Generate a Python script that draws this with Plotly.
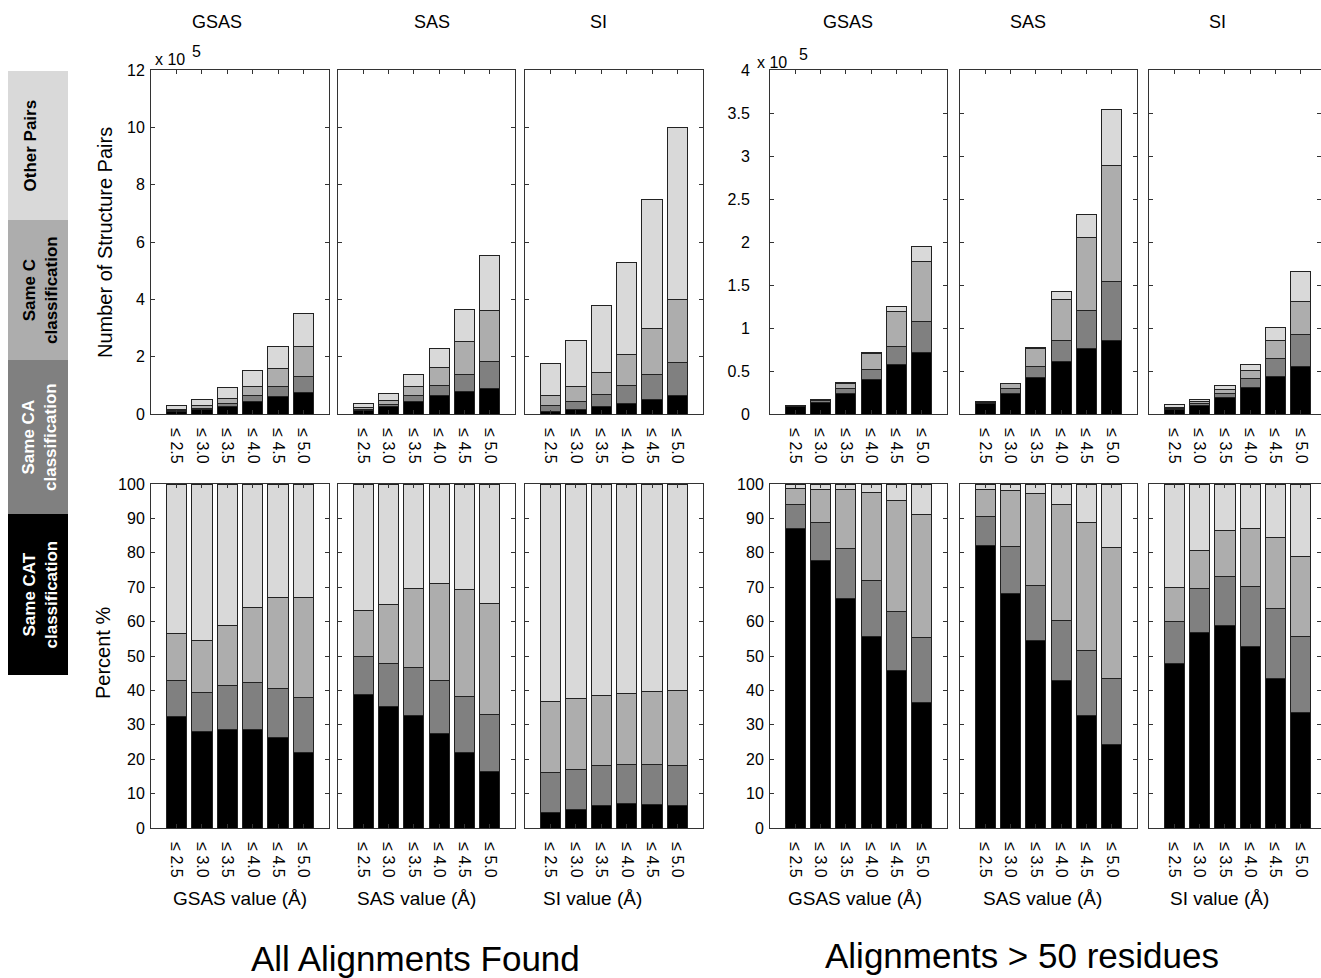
import plotly.graph_objects as go

# ---------------- data ----------------
categories = ["≤ 2.5", "≤ 3.0", "≤ 3.5", "≤ 4.0", "≤ 4.5", "≤ 5.0"]
series_names = ["Same CAT classification", "Same CA classification",
                "Same C classification", "Other Pairs"]
series_colors = ["#000000", "#808080", "#adadad", "#d9d9d9"]

# Number of structure pairs (x 10^5) - All alignments found
all_gsas_cat = [0.093, 0.146, 0.26, 0.434, 0.62, 0.764]
all_gsas_ca = [0.031, 0.059, 0.115, 0.204, 0.34, 0.555]
all_gsas_c = [0.039, 0.079, 0.16, 0.329, 0.63, 1.02]
all_gsas_other = [0.127, 0.237, 0.375, 0.544, 0.78, 1.15]

all_sas_cat = [0.136, 0.254, 0.449, 0.635, 0.795, 0.907]
all_sas_ca = [0.038, 0.091, 0.189, 0.354, 0.595, 0.918]
all_sas_c = [0.047, 0.124, 0.315, 0.644, 1.125, 1.78]
all_sas_other = [0.129, 0.251, 0.417, 0.667, 1.114, 1.925]

all_si_cat = [0.079, 0.141, 0.25, 0.376, 0.509, 0.64]
all_si_ca = [0.203, 0.297, 0.436, 0.604, 0.875, 1.17]
all_si_c = [0.364, 0.525, 0.773, 1.097, 1.586, 2.18]
all_si_other = [1.104, 1.597, 2.33, 3.22, 4.51, 6.01]

# Number of structure pairs (x 10^5) - Alignments > 50 residues
long_gsas_cat = [0.084, 0.135, 0.242, 0.399, 0.570, 0.714]
long_gsas_ca = [0.007, 0.019, 0.054, 0.117, 0.215, 0.365]
long_gsas_c = [0.004, 0.017, 0.062, 0.183, 0.402, 0.698]
long_gsas_other = [0.001, 0.003, 0.006, 0.018, 0.061, 0.174]

long_sas_cat = [0.124, 0.243, 0.425, 0.609, 0.761, 0.858]
long_sas_ca = [0.0125, 0.049, 0.124, 0.247, 0.438, 0.681]
long_sas_c = [0.012, 0.059, 0.209, 0.479, 0.858, 1.351]
long_sas_other = [0.0024, 0.006, 0.021, 0.087, 0.262, 0.656]

long_si_cat = [0.050, 0.099, 0.193, 0.306, 0.436, 0.556]
long_si_ca = [0.0127, 0.022, 0.047, 0.102, 0.205, 0.364]
long_si_c = [0.0106, 0.019, 0.045, 0.099, 0.208, 0.387]
long_si_other = [0.0315, 0.034, 0.044, 0.074, 0.156, 0.348]

# Percent % - All alignments found
pct_all_gsas_cat = [32.3, 28.0, 28.7, 28.7, 26.2, 21.9]
pct_all_gsas_ca = [10.7, 11.4, 12.6, 13.5, 14.3, 15.9]
pct_all_gsas_c = [13.4, 15.1, 17.6, 21.8, 26.6, 29.3]
pct_all_gsas_other = [43.6, 45.5, 41.1, 36.0, 32.9, 32.9]

pct_all_sas_cat = [38.9, 35.3, 32.8, 27.6, 21.9, 16.4]
pct_all_sas_ca = [10.9, 12.6, 13.8, 15.4, 16.4, 16.6]
pct_all_sas_c = [13.4, 17.2, 23.0, 28.0, 31.0, 32.2]
pct_all_sas_other = [36.8, 34.9, 30.4, 29.0, 30.7, 34.8]

pct_all_si_cat = [4.5, 5.5, 6.6, 7.1, 6.8, 6.4]
pct_all_si_ca = [11.6, 11.6, 11.5, 11.4, 11.7, 11.7]
pct_all_si_c = [20.8, 20.5, 20.4, 20.7, 21.2, 21.8]
pct_all_si_other = [63.1, 62.4, 61.5, 60.8, 60.3, 60.1]

# Percent % - Alignments > 50 residues
pct_long_gsas_cat = [87.0, 77.7, 66.6, 55.7, 45.7, 36.6]
pct_long_gsas_ca = [7.1, 11.2, 14.7, 16.3, 17.2, 18.7]
pct_long_gsas_c = [4.5, 9.5, 17.0, 25.5, 32.2, 35.8]
pct_long_gsas_other = [1.4, 1.6, 1.7, 2.5, 4.9, 8.9]

pct_long_sas_cat = [82.2, 68.1, 54.6, 42.8, 32.8, 24.2]
pct_long_sas_ca = [8.3, 13.6, 15.9, 17.4, 18.9, 19.2]
pct_long_sas_c = [7.9, 16.5, 26.8, 33.7, 37.0, 38.1]
pct_long_sas_other = [1.6, 1.8, 2.7, 6.1, 11.3, 18.5]

pct_long_si_cat = [47.8, 56.8, 58.8, 52.7, 43.4, 33.6]
pct_long_si_ca = [12.1, 12.8, 14.2, 17.5, 20.4, 22.0]
pct_long_si_c = [10.1, 11.1, 13.6, 17.0, 20.7, 23.4]
pct_long_si_other = [30.0, 19.3, 13.4, 12.8, 15.5, 21.0]

count_ticks_all = [0, 2, 4, 6, 8, 10, 12]
count_ticks_long = [0, 0.5, 1, 1.5, 2, 2.5, 3, 3.5, 4]
pct_ticks = [0, 10, 20, 30, 40, 50, 60, 70, 80, 90, 100]

# ---------------- layout helpers ----------------
W, H = 1321, 978
FONT = "Liberation Sans, Arial, Helvetica, sans-serif"


def fx(px):
    return px / W


def fy(py):
    return 1 - py / H


panel_x = [(151, 329), (338, 515), (525, 703), (770, 947), (960, 1137), (1149, 1321)]
panel_xrange = [[0, 7], [0, 7], [0, 7], [0, 7], [0, 7], [0, 6.8]]
row_y = [(70, 414), (484, 828)]

panels = [
    # row, col, series, yrange, y ticks, show tick labels, y label standoff
    (0, 0, [all_gsas_cat, all_gsas_ca, all_gsas_c, all_gsas_other], [0, 12], count_ticks_all, True, 2),
    (0, 1, [all_sas_cat, all_sas_ca, all_sas_c, all_sas_other], [0, 12], count_ticks_all, False, 2),
    (0, 2, [all_si_cat, all_si_ca, all_si_c, all_si_other], [0, 12], count_ticks_all, False, 2),
    (0, 3, [long_gsas_cat, long_gsas_ca, long_gsas_c, long_gsas_other], [0, 4], count_ticks_long, True, 16),
    (0, 4, [long_sas_cat, long_sas_ca, long_sas_c, long_sas_other], [0, 4], count_ticks_long, False, 2),
    (0, 5, [long_si_cat, long_si_ca, long_si_c, long_si_other], [0, 4], count_ticks_long, False, 2),
    (1, 0, [pct_all_gsas_cat, pct_all_gsas_ca, pct_all_gsas_c, pct_all_gsas_other], [0, 100], pct_ticks, True, 2),
    (1, 1, [pct_all_sas_cat, pct_all_sas_ca, pct_all_sas_c, pct_all_sas_other], [0, 100], pct_ticks, False, 2),
    (1, 2, [pct_all_si_cat, pct_all_si_ca, pct_all_si_c, pct_all_si_other], [0, 100], pct_ticks, False, 2),
    (1, 3, [pct_long_gsas_cat, pct_long_gsas_ca, pct_long_gsas_c, pct_long_gsas_other], [0, 100], pct_ticks, True, 2),
    (1, 4, [pct_long_sas_cat, pct_long_sas_ca, pct_long_sas_c, pct_long_sas_other], [0, 100], pct_ticks, False, 2),
    (1, 5, [pct_long_si_cat, pct_long_si_ca, pct_long_si_c, pct_long_si_other], [0, 100], pct_ticks, False, 2),
]

fig = go.Figure()
layout_axes = {}
xpos = [1, 2, 3, 4, 5, 6]

for i, (row, col, series, yrange, yticks, showlab, ystand) in enumerate(panels):
    n = i + 1
    xa = "x" if n == 1 else f"x{n}"
    ya = "y" if n == 1 else f"y{n}"
    for vals, name, color in zip(series, series_names, series_colors):
        fig.add_trace(go.Bar(
            x=xpos, y=vals, name=name, width=0.8,
            marker=dict(color=color, line=dict(color="#222222", width=1)),
            xaxis=xa, yaxis=ya, showlegend=False,
        ))
    x0, x1 = panel_x[col]
    y0, y1 = row_y[row]
    layout_axes["xaxis" if n == 1 else f"xaxis{n}"] = dict(
        domain=[fx(x0), min(1.0, fx(x1))], range=panel_xrange[col],
        anchor=ya, tickmode="array", tickvals=xpos, ticktext=categories,
        tickangle=90, ticks="inside", ticklen=4, tickcolor="#333333",
        showline=True, mirror="ticks", linecolor="#333333", linewidth=1,
        showgrid=False, zeroline=False, ticklabelstandoff=10, automargin=False,
        tickfont=dict(family=FONT, size=16, color="#000000"),
    )
    layout_axes["yaxis" if n == 1 else f"yaxis{n}"] = dict(
        domain=[fy(y1), fy(y0)], range=yrange, anchor=xa,
        tickmode="array", tickvals=yticks,
        ticktext=[("%g" % t) for t in yticks],
        showticklabels=showlab, ticks="inside", ticklen=4, tickcolor="#333333",
        showline=True, mirror="ticks", linecolor="#333333", linewidth=1,
        showgrid=False, zeroline=False, automargin=False,
        ticklabelstandoff=ystand,
        tickfont=dict(family=FONT, size=16, color="#000000"),
    )

annotations = []


def ann(text, x, y, size, angle=0, color="#000000", xanchor="center", yanchor="middle"):
    annotations.append(dict(
        text=text, x=fx(x), y=fy(y), xref="paper", yref="paper",
        showarrow=False, textangle=angle, xanchor=xanchor, yanchor=yanchor,
        font=dict(family=FONT, size=size, color=color),
    ))


# column titles
for t, x in [("GSAS", 217), ("SAS", 432), ("SI", 598), ("GSAS", 848), ("SAS", 1028), ("SI", 1217)]:
    ann(t, x, 22, 18)

# x10^5 exponents
ann("x 10", 153, 60, 16, xanchor="left")
ann("5", 190, 51, 16, xanchor="left")
ann("x 10", 755, 63, 16, xanchor="left")
ann("5", 797, 54, 16, xanchor="left")

# y titles
ann("Number of Structure Pairs", 105, 243, 20, angle=-90)
ann("Percent %", 103, 653, 20, angle=-90)

# x titles
for t, x in [("GSAS value (Å)", 240), ("SAS value (Å)", 416), ("SI value (Å)", 592),
             ("GSAS value (Å)", 855), ("SAS value (Å)", 1042), ("SI value (Å)", 1219)]:
    ann(t, x, 898, 19)

# group titles
ann("All Alignments Found", 415, 958, 35)
ann("Alignments > 50 residues", 1022, 955, 35)

# legend blocks
shapes = []
legend_blocks = [
    ("<b>Other Pairs</b>", 71, 220, "#d9d9d9", "#000000", 30),
    ("<b>Same C<br>classification</b>", 220, 360, "#adadad", "#000000", 40),
    ("<b>Same CA<br>classification</b>", 360, 514, "#808080", "#ffffff", 40),
    ("<b>Same CAT<br>classification</b>", 514, 675, "#000000", "#ffffff", 40),
]
for text, top, bot, fill, tcol, tx in legend_blocks:
    shapes.append(dict(type="rect", xref="paper", yref="paper",
                       x0=fx(8), x1=fx(68), y0=fy(bot), y1=fy(top),
                       fillcolor=fill, line=dict(width=0), layer="below"))
    ann(text, tx, (top + bot) / 2, 17, angle=-90, color=tcol)

fig.update_layout(
    width=W, height=H,
    margin=dict(l=0, r=0, t=0, b=0, pad=0, autoexpand=False),
    paper_bgcolor="white", plot_bgcolor="white",
    barmode="stack", bargap=0.2, showlegend=False,
    annotations=annotations, shapes=shapes,
    font=dict(family=FONT, color="#000000"),
    **layout_axes,
)

fig.write_html("out.html")
